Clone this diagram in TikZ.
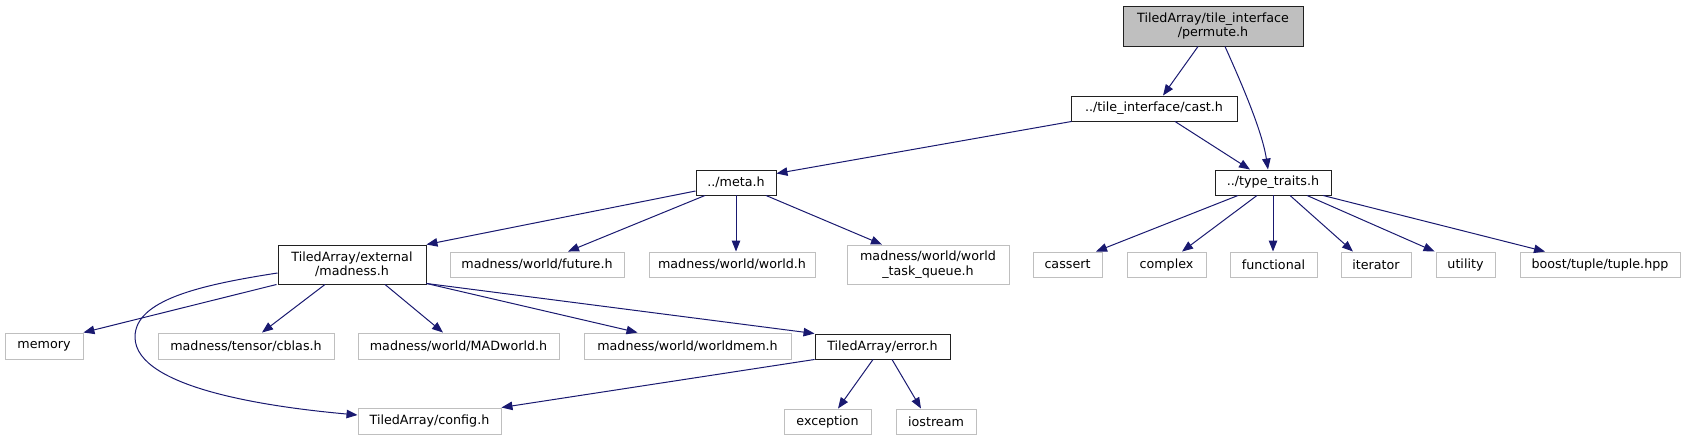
\documentclass[tikz,border=0pt]{standalone}
\usepackage{fontspec}
\setmainfont{DejaVu Sans}
\usetikzlibrary{arrows.meta}
\definecolor{edgeblue}{HTML}{191970}
\definecolor{extgray}{HTML}{BFBFBF}
\definecolor{incborder}{HTML}{202020}
\begin{document}
\begin{tikzpicture}[x=1pt,y=-1pt,
  base/.style={rectangle, inner sep=0pt, align=center, font=\fontsize{12.7}{14.5}\selectfont, line width=0.95pt},
  inc/.style={base, draw=incborder, fill=white},
  ext/.style={base, draw=extgray, fill=white},
  cur/.style={base, draw=incborder, fill=extgray},
  dep/.style={draw=edgeblue, line width=1pt, -{Triangle[length=11pt,width=8.5pt]}}]
\useasboundingbox (0,0) rectangle (1685,440);
% row 0
\node[cur, minimum width=180pt, minimum height=40pt] (permute) at (1213,26) {TiledArray/tile\_interface\\/permute.h};
% row 1
\node[inc, minimum width=166pt, minimum height=25pt] (cast) at (1154,108.5) {../tile\_interface/cast.h};
% row 2
\node[inc, minimum width=80pt, minimum height=25pt] (meta) at (736,182.5) {../meta.h};
\node[inc, minimum width=116pt, minimum height=25pt] (tt) at (1273,182.5) {../type\_traits.h};
% row 3
\node[inc, minimum width=148pt, minimum height=39pt] (madness) at (352,264.5) {TiledArray/external\\/madness.h};
\node[ext, minimum width=174pt, minimum height=25pt] (future) at (537,264.5) {madness/world/future.h};
\node[ext, minimum width=166pt, minimum height=25pt] (world) at (732,264.5) {madness/world/world.h};
\node[ext, minimum width=162pt, minimum height=39pt] (wtq) at (928,264.5) {madness/world/world\\\_task\_queue.h};
\node[ext, minimum width=69pt, minimum height=25pt] (cassert) at (1067.5,264.5) {cassert};
\node[ext, minimum width=79pt, minimum height=25pt] (complex) at (1166.5,264.5) {complex};
\node[ext, minimum width=87pt, minimum height=25pt] (functional) at (1273.5,264.5) {functional};
\node[ext, minimum width=70pt, minimum height=25pt] (iterator) at (1376,264.5) {iterator};
\node[ext, minimum width=59pt, minimum height=25pt] (utility) at (1465.5,264.5) {utility};
\node[ext, minimum width=160pt, minimum height=25pt] (boost) at (1600,264.5) {boost/tuple/tuple.hpp};
% row 4
\node[ext, minimum width=78pt, minimum height=26pt] (memory) at (44,346) {memory};
\node[ext, minimum width=176pt, minimum height=26pt] (cblas) at (246,346) {madness/tensor/cblas.h};
\node[ext, minimum width=201pt, minimum height=26pt] (madworld) at (458.5,346) {madness/world/MADworld.h};
\node[ext, minimum width=207pt, minimum height=26pt] (worldmem) at (687.5,346) {madness/world/worldmem.h};
\node[inc, minimum width=135pt, minimum height=25pt] (error) at (882.5,346.5) {TiledArray/error.h};
% row 5
\node[ext, minimum width=143pt, minimum height=26pt] (config) at (429.5,421) {TiledArray/config.h};
\node[ext, minimum width=87pt, minimum height=25pt] (exception) at (827.5,421.5) {exception};
\node[ext, minimum width=80pt, minimum height=25pt] (iostream) at (936,421.5) {iostream};
% edges
\draw[dep] ([xshift=-15pt]permute.south) -- ([xshift=9pt]cast.north);
\draw[dep] ([xshift=12pt]permute.south) .. controls (1240,80) and (1262,130) .. ([xshift=-5pt]tt.north);
\draw[dep] ([xshift=1pt]cast.south west) -- ([yshift=9pt]meta.east);
\draw[dep] ([xshift=21pt]cast.south) -- ([xshift=-23pt]tt.north);
\draw[dep] ([yshift=-8.5pt]meta.west) -- (madness.north east);
\draw[dep] ([xshift=-31pt]meta.south) -- ([xshift=31pt]future.north);
\draw[dep] (meta.south) -- (meta.south |- world.north);
\draw[dep] ([xshift=30pt]meta.south) -- ([xshift=-46pt]wtq.north);
\draw[dep] ([xshift=-1pt]madness.south west) -- (memory.north east);
\draw[dep] ([yshift=-8.5pt]madness.west) .. controls (200,285) and (135,300) .. (135,337) .. controls (135,390) and (280,408) .. ([yshift=6pt]config.west);
\draw[dep] ([xshift=-27pt]madness.south) -- ([xshift=16pt]cblas.north);
\draw[dep] ([xshift=33pt]madness.south) -- ([xshift=-15.5pt]madworld.north);
\draw[dep] ([yshift=1pt]madness.south east) -- ([xshift=-50pt]worldmem.north);
\draw[dep] ([yshift=1pt]madness.south east) -- (error.north west);
\draw[dep] (error.south west) -- (config.north east);
\draw[dep] ([xshift=-9.5pt]error.south) -- ([xshift=10.5pt]exception.north);
\draw[dep] ([xshift=9.5pt]error.south) -- ([xshift=-15pt]iostream.north);
\draw[dep] ([xshift=-35pt]tt.south) -- ([xshift=28.5pt]cassert.north);
\draw[dep] ([xshift=-16pt]tt.south) -- ([xshift=15.5pt]complex.north);
\draw[dep] (tt.south) -- (tt.south |- functional.north);
\draw[dep] ([xshift=17pt]tt.south) -- ([xshift=-23pt]iterator.north);
\draw[dep] ([xshift=34pt]tt.south) -- ([xshift=-1pt]utility.north west);
\draw[dep] ([xshift=50pt]tt.south) -- ([xshift=-55pt]boost.north);
\end{tikzpicture}
\end{document}
